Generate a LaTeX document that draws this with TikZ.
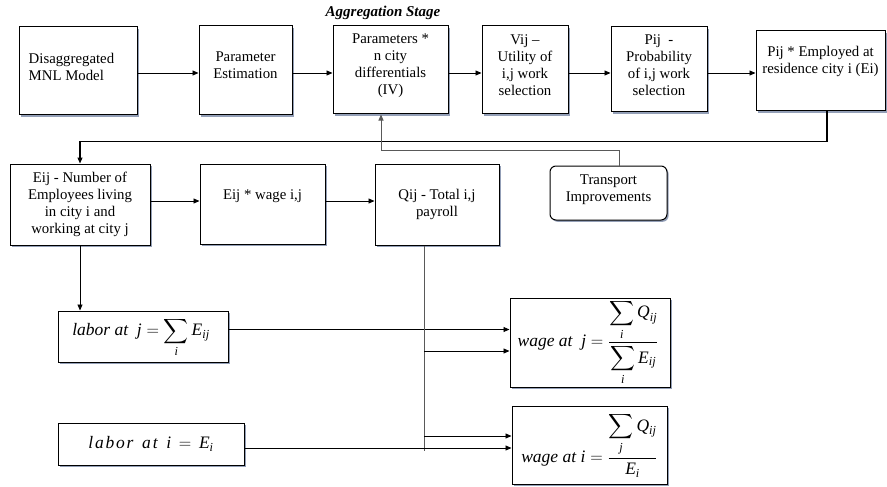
\documentclass[tikz,border=0pt]{standalone}
\usepackage{amsmath}
\usepackage{fontspec}
\setmainfont{Liberation Serif}
\usetikzlibrary{arrows.meta,shadows,calc}
\newcommand{\vti}[1]{\textit{#1}}
\newcommand{\lsp}{\kern1.8pt}
\begin{document}
\begin{tikzpicture}[x=1pt,y=-1pt,
  box/.style={draw,line width=1pt,fill=white,inner sep=0pt,
    drop shadow={shadow xshift=1.6pt,shadow yshift=-1.8pt,fill={rgb,255:red,120;green,135;blue,165},opacity=0.8}},
  txt/.style={align=center,inner sep=0pt,font=\fontsize{14.8}{17}\selectfont},
  fml/.style={inner sep=0pt,font=\fontsize{17.5}{20}\selectfont},
  arr/.style={-{Triangle[length=6pt,width=5pt]},line width=0.9pt},
  ln/.style={line width=0.9pt},
  gr/.style={draw=black!65}
]
\useasboundingbox (0,0) rectangle (887,487);
% top row boxes
\node[box,minimum width=118,minimum height=88] (mnl) at (78,71) {};
\node[box,minimum width=93,minimum height=89] (pe) at (245.5,70.5) {};
\node[box,minimum width=115,minimum height=88] (par) at (390.5,70) {};
\node[box,minimum width=86,minimum height=88] (vij) at (525,70) {};
\node[box,minimum width=96,minimum height=85] (pij) at (659,69.5) {};
\node[box,minimum width=129,minimum height=80] (emp) at (820.5,71) {};
% top row texts
\node[txt,align=left,anchor=west] (mnlt) at ([xshift=10,yshift=4]mnl.west) {Disaggregated\\MNL Model};
\node[txt] (pet) at ([yshift=5]pe.center) {Parameter\\Estimation};
\node[txt] (part) at ([yshift=4.5]par.center) {Parameters *\\n city\\differentials\\(IV)};
\node[txt] (vijt) at ([yshift=4.5]vij.center) {Vij –\\Utility of\\i,j work\\selection};
\node[txt] (pijt) at ([yshift=4]pij.center) {Pij\ \ -\\Probability\\of i,j work\\selection};
\node[txt] (empt) at ([yshift=10]emp.center) {Pij * Employed at\\residence city i (Ei)};
\node[font=\fontsize{15}{17}\selectfont\bfseries\itshape,inner sep=0pt] (agg) at (383,13) {Aggregation Stage};
% second row
\node[box,minimum width=140,minimum height=81] (eij) at (80,204.5) {};
\node[box,minimum width=125,minimum height=80] (ew) at (262.5,204) {};
\node[box,minimum width=124,minimum height=81] (qij) at (437,204.5) {};
\node[box,rounded corners=6pt,minimum width=117,minimum height=54] (tr) at (608.5,193) {};
\node[txt] (eijt) at (eij.center) {Eij - Number of\\Employees living\\in city i and\\working at city j};
\node[txt] (ewt) at ([yshift=8]ew.center) {Eij * wage i,j};
\node[txt] (qijt) at (qij.center) {Qij - Total i,j\\payroll};
\node[txt] (trt) at ([yshift=3]tr.center) {Transport\\Improvements};
% formula boxes
\node[box,minimum width=170,minimum height=51] (lj) at (143,336.5) {};
\node[box,minimum width=186,minimum height=42] (li) at (151,444) {};
\node[box,minimum width=160,minimum height=89] (wj) at (590,342.5) {};
\node[box,minimum width=155,minimum height=78] (wi) at (589.5,445) {};
\node[fml] (ljt) at ([xshift=-2,yshift=-1]lj.center)
  {$\vti{labor at}\ \ \vti{j}=\displaystyle\sum_{\vti{i}}\vti{E}_{\vti{ij}}$};
\node[fml] (lit) at (li.center)
  {$\vti{l\lsp a\lsp b\lsp o\lsp r}\ \ \vti{a\lsp t}\ \ \vti{i}\,=\,\vti{E}_{\vti{i}}$};
\node[fml] (wjt) at ([xshift=-2]wj.center)
  {$\vti{wage at}\ \ \vti{j}=\dfrac{\displaystyle\sum_{\vti{i}}\vti{Q}_{\vti{ij}}}{\displaystyle\sum_{\vti{i}}\vti{E}_{\vti{ij}}}$};
\node[fml] (wit) at (wi.center)
  {$\vti{wage at}\ \vti{i}=\dfrac{\displaystyle\sum_{\vti{j}}\vti{Q}_{\vti{ij}}}{\vti{E}_{\vti{i}}}$};
% helper coordinates
\coordinate (row1) at (0,73);
\coordinate (row2) at (0,201);
% top row arrows
\draw[arr] (mnl.east |- row1) -- (pe.west |- row1);
\draw[arr] (pe.east |- row1) -- (par.west |- row1);
\draw[arr] (par.east |- row1) -- (vij.west |- row1);
\draw[arr] (vij.east |- row1) -- (pij.west |- row1);
\draw[arr] (pij.east |- row1) -- (emp.west |- row1);
% feedback to Eij
\draw[arr,line width=1.1pt] ([xshift=6.5]emp.south) -- ++(0,30) -| (eij.north);
% transport improvements
\draw[arr,gr] ([xshift=10.5]tr.north) -- ++(0,-15) -| ([xshift=-9.5]par.south);
% second row arrows
\draw[arr] (eij.east |- row2) -- (ew.west |- row2);
\draw[arr] (ew.east |- row2) -- (qij.west |- row2);
% Eij to labor j
\draw[arr] (eij.south) -- (eij.south |- lj.north);
% labor j to wage j
\draw[arr] ([yshift=7]lj.east) -- ([yshift=7]lj.east -| wj.west);
% Qij trunk
\draw[ln,gr] ([xshift=-13]qij.south) -- ++(0,205) coordinate (qend);
\coordinate (b1) at ([xshift=-13]qij.south |- 0,351);
\coordinate (b2) at ([xshift=-13]qij.south |- 0,436);
\draw[arr] (b1) -- (b1 -| wj.west);
\draw[arr] (b2) -- (b2 -| wi.west);
% labor i to wage i
\draw[arr] ([yshift=-4]li.east) -- ([yshift=-4]li.east -| wi.west);
\end{tikzpicture}
\end{document}
